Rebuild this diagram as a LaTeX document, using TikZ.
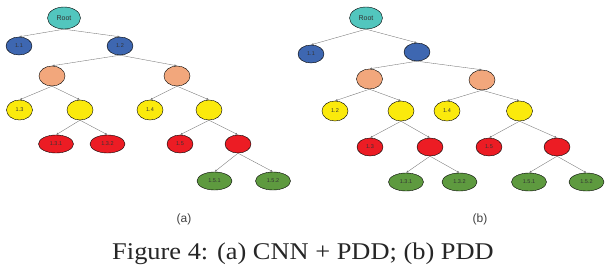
\documentclass[tikz,border=0pt]{standalone}
\usepackage{fontspec}
\setmainfont{Liberation Serif}
\setsansfont{Liberation Sans}
\usetikzlibrary{shapes.geometric,arrows.meta}

\definecolor{rootcol}{HTML}{52C6BE}
\definecolor{bluecol}{HTML}{3E67B1}
\definecolor{peachcol}{HTML}{F2A77C}
\definecolor{yellcol}{HTML}{FBEA0C}
\definecolor{redcol}{HTML}{EC1C24}
\definecolor{greencol}{HTML}{5E9A3F}

\tikzset{
  tnode/.style={ellipse, draw=black, line width=0.4pt, inner sep=0pt,
    minimum width=26pt, minimum height=19pt, text=black!80,
    font=\sffamily\fontsize{5.5}{5.5}\selectfont},
  rootnd/.style={tnode, fill=rootcol, minimum width=33pt, minimum height=22pt,
    font=\sffamily\fontsize{7}{7}\selectfont},
  bluend/.style={tnode, fill=bluecol, minimum height=18pt},
  peachnd/.style={tnode, fill=peachcol, minimum height=20pt},
  yellnd/.style={tnode, fill=yellcol, minimum height=20pt},
  rednd/.style={tnode, fill=redcol, minimum height=18pt},
  widend/.style={minimum width=35pt},
  greennd/.style={tnode, fill=greencol, widend, minimum height=18pt},
  edge/.style={draw=black!55, line width=0.35pt, -{Latex[length=2.5pt,width=2pt]}}
}

\begin{document}
\begin{tikzpicture}[x=1pt,y=-1pt]
\useasboundingbox (0,0) rectangle (610,268);

% (a) CNN + PDD
\node[rootnd] (aroot) at (64,18) {Root};
\node[bluend] (a11) at (19,46) {1.1};
\node[bluend] (a12) at (120,46) {1.2};
\node[peachnd] (ao1) at (52,76) {};
\node[peachnd] (ao2) at (177,76) {};
\node[yellnd] (ay1) at (19.5,110) {1.3};
\node[yellnd] (ay2) at (80,110) {};
\node[yellnd] (ay3) at (150,110) {1.4};
\node[yellnd] (ay4) at (209,110) {};
\node[rednd,widend] (ar1) at (56,144) {1.3.1};
\node[rednd,widend] (ar2) at (107.5,144) {1.3.2};
\node[rednd] (ar3) at (180,144) {1.5};
\node[rednd] (ar4) at (238,144) {};
\node[greennd] (ag1) at (214.5,181) {1.5.1};
\node[greennd] (ag2) at (273,181) {1.5.2};
\node[font=\sffamily\fontsize{12}{12}\selectfont, text=black!75] (alab) at (184,219) {(a)};

\foreach \p/\c in {aroot/a11,aroot/a12,a12/ao1,a12/ao2,ao1/ay1,ao1/ay2,ao2/ay3,ao2/ay4,
                   ay2/ar1,ay2/ar2,ay4/ar3,ay4/ar4,ar4/ag1,ar4/ag2}
  \draw[edge] (\p.south) -- (\c.north);

% (b) PDD
\node[rootnd] (broot) at (366,18) {Root};
\node[bluend] (b11) at (311,54) {1.1};
\node[bluend] (b12) at (417,52) {};
\node[peachnd] (bo1) at (369.5,79) {};
\node[peachnd] (bo2) at (482,80) {};
\node[yellnd] (by1) at (335,111) {1.2};
\node[yellnd] (by2) at (401,111) {};
\node[yellnd] (by3) at (447,111) {1.4};
\node[yellnd] (by4) at (519.5,111) {};
\node[rednd] (br1) at (370,147) {1.3};
\node[rednd] (br2) at (430,147) {};
\node[rednd] (br3) at (489,147) {1.5};
\node[rednd] (br4) at (557,147) {};
\node[greennd] (bg1) at (406,182) {1.3.1};
\node[greennd] (bg2) at (459.5,182) {1.3.2};
\node[greennd] (bg3) at (529,182) {1.5.1};
\node[greennd] (bg4) at (586.5,182) {1.5.2};
\node[font=\sffamily\fontsize{12}{12}\selectfont, text=black!75] (blab) at (480,219) {(b)};

\foreach \p/\c in {broot/b11,broot/b12,b12/bo1,b12/bo2,bo1/by1,bo1/by2,bo2/by3,bo2/by4,
                   by2/br1,by2/br2,by4/br3,by4/br4,br2/bg1,br2/bg2,br4/bg3,br4/bg4}
  \draw[edge] (\p.south) -- (\c.north);

% caption
\node[anchor=base, inner sep=0pt, xscale=1.1, transform shape,
      font=\fontsize{24}{28}\selectfont, text=black!85] (cap) at (303,259)
  {Figure 4: (a) CNN + PDD; (b) PDD};
\end{tikzpicture}
\end{document}
